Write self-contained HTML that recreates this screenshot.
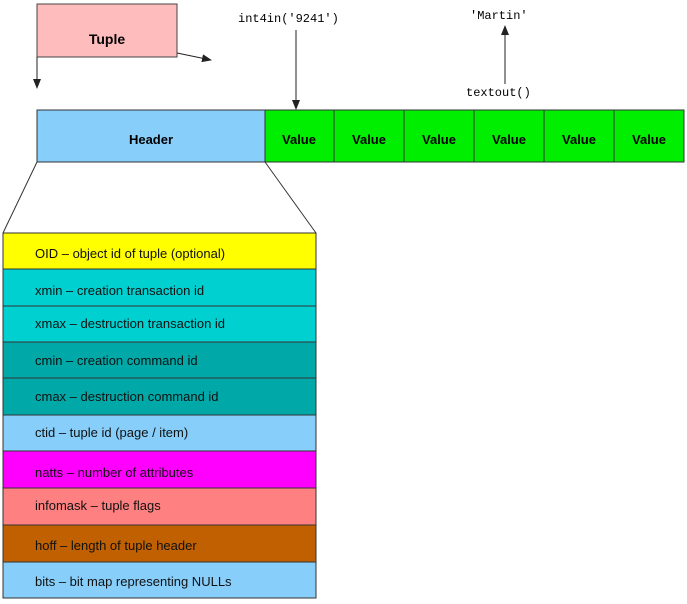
<!DOCTYPE html>
<html><head><style>
body{margin:0;width:687px;height:599px;background:#fff;overflow:hidden}
</style></head><body>
<svg width="687" height="599" xmlns="http://www.w3.org/2000/svg" font-family="Liberation Sans, sans-serif">
<defs><marker id="a" markerWidth="10" markerHeight="8" refX="9" refY="4" orient="auto" markerUnits="userSpaceOnUse"><path d="M0,0 L10,4 L0,8 z" fill="#222"/></marker></defs>
<rect x="37" y="4" width="140" height="53" fill="#ffbcbc" stroke="#444"/>
<text x="107" y="44" font-size="14" font-weight="bold" text-anchor="middle">Tuple</text>
<line x1="37" y1="57" x2="37" y2="88" stroke="#222" marker-end="url(#a)"/>
<line x1="177" y1="53" x2="211" y2="60" stroke="#222" marker-end="url(#a)"/>
<text x="238" y="22" font-family="Liberation Mono, monospace" font-size="12">int4in('9241')</text>
<line x1="296" y1="30" x2="296" y2="109" stroke="#222" marker-end="url(#a)"/>
<text x="470" y="19" font-family="Liberation Mono, monospace" font-size="12">'Martin'</text>
<line x1="505" y1="84" x2="505" y2="26" stroke="#222" marker-end="url(#a)"/>
<text x="466" y="96" font-family="Liberation Mono, monospace" font-size="12">textout()</text>
<rect x="37" y="110" width="228" height="52" fill="#87cefa" stroke="#333"/>
<text x="151" y="144" font-size="13" font-weight="bold" text-anchor="middle">Header</text>
<g fill="#00ee00" stroke="#333">
<rect x="265" y="110" width="69" height="52"/><rect x="334" y="110" width="70" height="52"/><rect x="404" y="110" width="70" height="52"/><rect x="474" y="110" width="70" height="52"/><rect x="544" y="110" width="70" height="52"/><rect x="614" y="110" width="70" height="52"/>
</g>
<g font-size="13" font-weight="bold" text-anchor="middle">
<text x="299" y="144">Value</text><text x="369" y="144">Value</text><text x="439" y="144">Value</text><text x="509" y="144">Value</text><text x="579" y="144">Value</text><text x="649" y="144">Value</text>
</g>
<line x1="37" y1="162" x2="3" y2="233" stroke="#333"/>
<line x1="265" y1="162" x2="316" y2="233" stroke="#333"/>
<g stroke="#333" font-size="13">
<rect x="3" y="233" width="313" height="36" fill="#ffff00"/>
<rect x="3" y="269" width="313" height="37" fill="#00d0d0"/>
<rect x="3" y="306" width="313" height="36" fill="#00d0d0"/>
<rect x="3" y="342" width="313" height="36" fill="#00a8a8"/>
<rect x="3" y="378" width="313" height="37" fill="#00a8a8"/>
<rect x="3" y="415" width="313" height="36" fill="#87cefa"/>
<rect x="3" y="451" width="313" height="37" fill="#ff00ff"/>
<rect x="3" y="488" width="313" height="37" fill="#ff8080"/>
<rect x="3" y="525" width="313" height="37" fill="#c06000"/>
<rect x="3" y="562" width="313" height="36" fill="#87cefa"/>
</g>
<g font-size="13" fill="#111">
<text x="35" y="258">OID – object id of tuple (optional)</text>
<text x="35" y="295">xmin – creation transaction id</text>
<text x="35" y="328">xmax – destruction transaction id</text>
<text x="35" y="365">cmin – creation command id</text>
<text x="35" y="401">cmax – destruction command id</text>
<text x="35" y="437">ctid – tuple id (page / item)</text>
<text x="35" y="477">natts – number of attributes</text>
<text x="35" y="510">infomask – tuple flags</text>
<text x="35" y="550">hoff – length of tuple header</text>
<text x="35" y="586">bits – bit map representing NULLs</text>
</g>
</svg>
</body></html>
